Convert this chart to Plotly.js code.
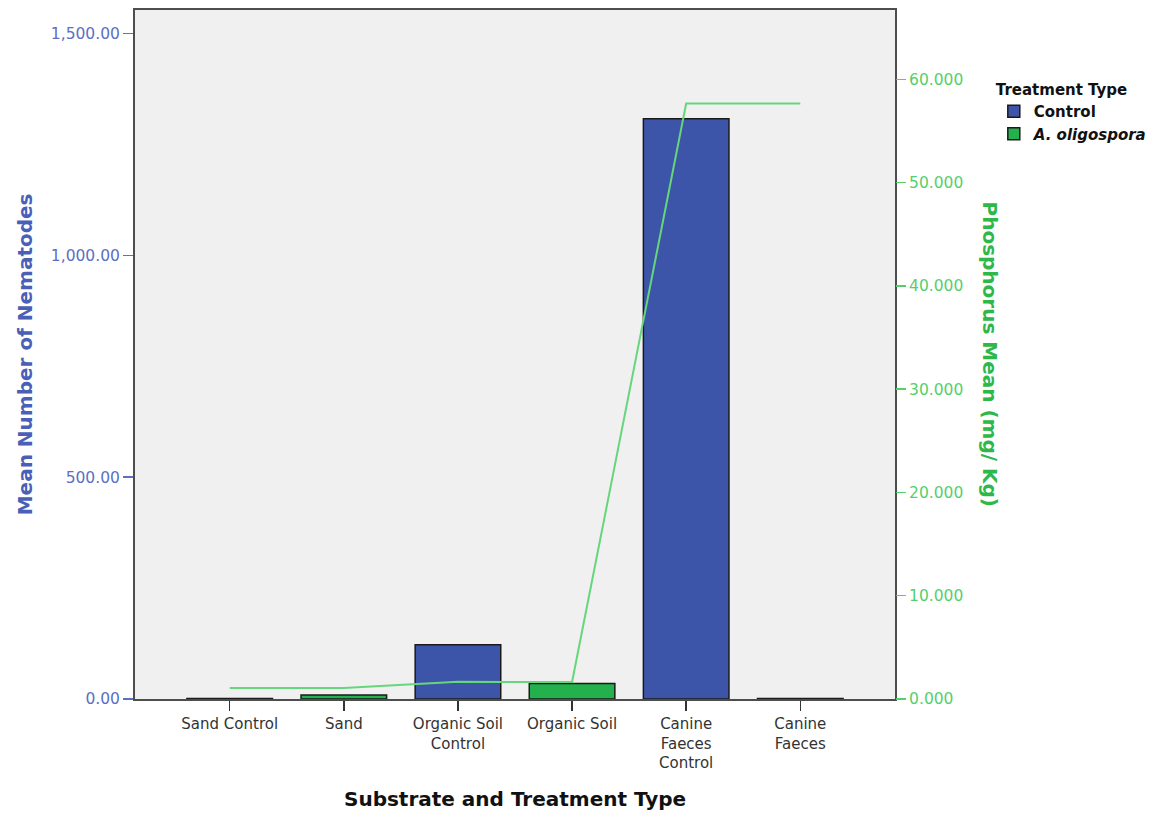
<!DOCTYPE html>
<html>
<head>
<meta charset="utf-8">
<script src="https://cdn.plot.ly/plotly-3.0.1.min.js"></script>
<style>
  html, body { margin: 0; padding: 0; background: #ffffff; }
  #chart { width: 1163px; height: 814px; }
</style>
</head>
<body>
<div id="chart"></div>
<script>
// Substrate / treatment groups along the x axis
const categories = ["Sand Control", "Sand", "Organic Soil Control", "Organic Soil", "Canine Faeces Control", "Canine Faeces"];
const tickLabels = ["Sand Control", "Sand", "Organic Soil<br>Control", "Organic Soil", "Canine<br>Faeces<br>Control", "Canine<br>Faeces"];

// Mean nematode counts, split by treatment type
const controlGroups = ["Sand Control", "Organic Soil Control", "Canine Faeces Control"];
const controlNematodes = [1, 122, 1308];
const oligosporaGroups = ["Sand", "Organic Soil", "Canine Faeces"];
const oligosporaNematodes = [9, 35, 1];

// Mean phosphorus (mg/Kg) per group
const phosphorusMean = [1.06, 1.06, 1.67, 1.64, 57.65, 57.65];

// Tick values for both y axes
const nematodeTicks = [0, 500, 1000, 1500];
const nematodeTickText = ["0.00", "500.00", "1,000.00", "1,500.00"];
const phosphorusTicks = [0, 10, 20, 30, 40, 50, 60];
const phosphorusTickText = ["0.000", "10.000", "20.000", "30.000", "40.000", "50.000", "60.000"];

const BLUE = "#3c55a8";
const GREEN = "#22b14c";
const LINE_GREEN = "#66d67c";
const FONT = "DejaVu Sans";

const traces = [
  {
    type: "bar", name: "<b>Control</b>",
    x: controlGroups, y: controlNematodes, width: 0.75,
    marker: { color: BLUE, line: { color: "#1a1a1a", width: 1.5 } },
    hoverinfo: "x+y"
  },
  {
    type: "bar", name: "<b><i>A. oligospora</i></b>",
    x: oligosporaGroups, y: oligosporaNematodes, width: 0.75,
    marker: { color: GREEN, line: { color: "#1a1a1a", width: 1.5 } },
    hoverinfo: "x+y"
  },
  {
    type: "scatter", mode: "lines", name: "Phosphorus",
    x: categories, y: phosphorusMean, yaxis: "y2",
    line: { color: LINE_GREEN, width: 2 },
    showlegend: false
  }
];

const layout = {
  width: 1163, height: 814,
  margin: { l: 135, r: 268, t: 10, b: 115 },
  paper_bgcolor: "#ffffff",
  plot_bgcolor: "#f0f0f0",
  barmode: "overlay",
  font: { family: FONT, size: 15.5, color: "#333333" },
  xaxis: {
    type: "category",
    categoryorder: "array", categoryarray: categories,
    tickvals: categories, ticktext: tickLabels,
    range: [-0.83, 5.83],
    showgrid: false, zeroline: false,
    showline: true, mirror: true, linecolor: "#4d4d4d", linewidth: 2,
    ticks: "outside", ticklen: 10, tickcolor: "#333333", tickwidth: 1.5,
    tickfont: { family: FONT, size: 15, color: "#333333" }
  },
  yaxis: {
    range: [0, 1553],
    tickvals: nematodeTicks, ticktext: nematodeTickText,
    showgrid: false, zeroline: false,
    showline: true, mirror: true, linecolor: "#4d4d4d", linewidth: 2,
    ticks: "outside", ticklen: 10, tickcolor: "#5b6fc4", tickwidth: 1.5,
    tickfont: { family: FONT, size: 15.5, color: "#5b6fc4" }
  },
  yaxis2: {
    overlaying: "y", side: "right",
    range: [0, 66.71],
    tickvals: phosphorusTicks, ticktext: phosphorusTickText,
    showgrid: false, zeroline: false, showline: false,
    ticks: "outside", ticklen: 10, tickcolor: "#55cf6c", tickwidth: 1.5,
    tickfont: { family: FONT, size: 15.5, color: "#55cf6c" }
  },
  legend: {
    title: { text: "<b>Treatment Type</b>", font: { family: FONT, size: 15, color: "#111111" } },
    font: { family: FONT, size: 15, color: "#111111" },
    x: 1.13, xanchor: "left", y: 0.905, yanchor: "top",
    bgcolor: "rgba(0,0,0,0)", traceorder: "normal"
  },
  annotations: [
    {
      text: "<b>Mean Number of Nematodes</b>", xref: "paper", yref: "paper",
      x: -0.145, y: 0.5, xanchor: "center", yanchor: "middle",
      textangle: -90, showarrow: false,
      font: { family: FONT, size: 20, color: "#4a5fb8" }
    },
    {
      text: "<b>Phosphorus Mean (mg/ Kg)</b>", xref: "paper", yref: "paper",
      x: 1.125, y: 0.5, xanchor: "center", yanchor: "middle",
      textangle: 90, showarrow: false,
      font: { family: FONT, size: 20, color: "#2fb84a" }
    },
    {
      text: "<b>Substrate and Treatment Type</b>", xref: "paper", yref: "paper",
      x: 0.4997, y: -0.145, xanchor: "center", yanchor: "middle",
      showarrow: false,
      font: { family: FONT, size: 20, color: "#111111" }
    }
  ]
};

Plotly.newPlot("chart", traces, layout, { displayModeBar: false, staticPlot: true });
</script>
</body>
</html>
